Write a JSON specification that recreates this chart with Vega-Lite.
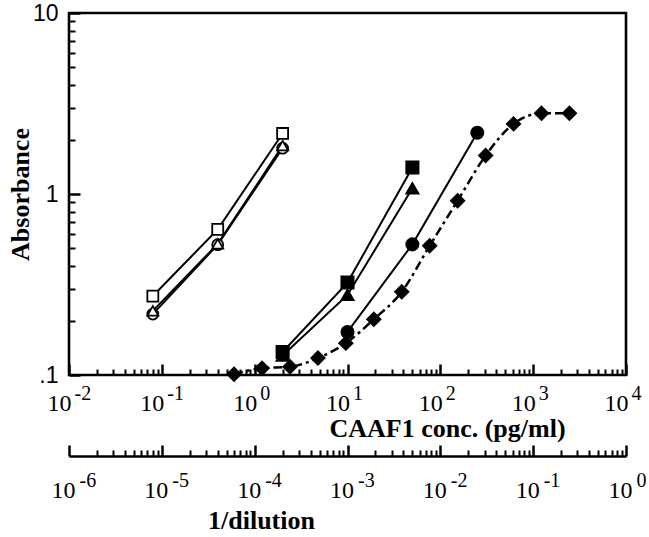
{
  "$schema": "https://vega.github.io/schema/vega-lite/v6.json",
  "width": 557,
  "height": 362,
  "autosize": {"type": "none"},
  "padding": {"left": 69, "top": 13, "right": 23, "bottom": 162},
  "background": "white",
  "config": {
    "view": {"stroke": "black", "strokeWidth": 2.6},
    "axis": {
      "grid": false,
      "labelColor": "black",
      "domainColor": "black",
      "titleColor": "black",
      "labelFont": "Liberation Serif",
      "titleFont": "Liberation Serif",
      "labelFlush": false,
      "labelOverlap": false,
      "labelBound": false
    }
  },
  "data": {
    "values": [
      {"series": "open circle", "conc": 0.08, "abs": 0.217},
      {"series": "open circle", "conc": 0.4, "abs": 0.525},
      {"series": "open circle", "conc": 2, "abs": 1.79},
      {"series": "open triangle", "conc": 0.08, "abs": 0.226},
      {"series": "open triangle", "conc": 0.4, "abs": 0.53},
      {"series": "open triangle", "conc": 2, "abs": 1.85},
      {"series": "open square", "conc": 0.08, "abs": 0.273},
      {"series": "open square", "conc": 0.4, "abs": 0.638},
      {"series": "open square", "conc": 2, "abs": 2.16},
      {"series": "filled triangle", "conc": 2, "abs": 0.128},
      {"series": "filled triangle", "conc": 10, "abs": 0.277},
      {"series": "filled triangle", "conc": 50, "abs": 1.075},
      {"series": "filled square", "conc": 2, "abs": 0.134},
      {"series": "filled square", "conc": 10, "abs": 0.324},
      {"series": "filled square", "conc": 50, "abs": 1.4},
      {"series": "filled circle", "conc": 10, "abs": 0.173},
      {"series": "filled circle", "conc": 50, "abs": 0.527},
      {"series": "filled circle", "conc": 250, "abs": 2.18},
      {"series": "filled diamond", "conc": 0.6, "abs": 0.101},
      {"series": "filled diamond", "conc": 1.2, "abs": 0.109},
      {"series": "filled diamond", "conc": 2.4, "abs": 0.111},
      {"series": "filled diamond", "conc": 4.8, "abs": 0.124},
      {"series": "filled diamond", "conc": 9.6, "abs": 0.15},
      {"series": "filled diamond", "conc": 19.2, "abs": 0.203},
      {"series": "filled diamond", "conc": 38.4, "abs": 0.288},
      {"series": "filled diamond", "conc": 76.8, "abs": 0.518},
      {"series": "filled diamond", "conc": 153.6, "abs": 0.918},
      {"series": "filled diamond", "conc": 307.2, "abs": 1.63},
      {"series": "filled diamond", "conc": 614.4, "abs": 2.44},
      {"series": "filled diamond", "conc": 1228.8, "abs": 2.79},
      {"series": "filled diamond", "conc": 2457.6, "abs": 2.79}
    ]
  },
  "resolve": {
    "scale": {"x": "independent"},
    "axis": {"x": "independent", "y": "independent"}
  },
  "layer": [
    {
      "data": {"values": [{"conc": 0.01, "abs": 0.1}, {"conc": 10000, "abs": 10}]},
      "mark": {"type": "point", "opacity": 0},
      "encoding": {
        "x": {
          "field": "conc", "type": "quantitative",
          "scale": {"type": "log", "domain": [0.01, 10000], "nice": false},
          "axis": {
            "orient": "bottom", "offset": -6, "domain": false, "labels": false, "title": null,
            "tickSize": 6, "tickWidth": 2, "tickColor": "black",
            "values": [0.02,0.03,0.04,0.05,0.06,0.07,0.08,0.09,0.2,0.3,0.4,0.5,0.6,0.7,0.8,0.9,2,3,4,5,6,7,8,9,20,30,40,50,60,70,80,90,200,300,400,500,600,700,800,900,2000,3000,4000,5000,6000,7000,8000,9000]
          }
        },
        "y": {
          "field": "abs", "type": "quantitative",
          "scale": {"type": "log", "domain": [0.1, 10], "nice": false},
          "axis": {
            "orient": "left", "offset": -6, "domain": false, "labels": false, "title": null,
            "tickSize": 6, "tickWidth": 2, "tickColor": "black",
            "values": [0.2,0.3,0.4,0.5,0.6,0.7,0.8,0.9,2,3,4,5,6,7,8,9]
          }
        }
      }
    },
    {
      "data": {"values": [{"conc": 0.01, "abs": 0.1}, {"conc": 10000, "abs": 10}]},
      "mark": {"type": "point", "opacity": 0},
      "encoding": {
        "x": {
          "field": "conc", "type": "quantitative",
          "scale": {"type": "log", "domain": [0.01, 10000], "nice": false},
          "axis": {
            "orient": "bottom", "offset": -11, "domain": false, "title": null,
            "tickSize": 11, "tickWidth": 2.5, "tickColor": "black",
            "values": [0.01, 0.1, 1, 10, 100, 1000, 10000],
            "labels": true,
            "labelExpr": "'' + round(log(datum.value) / LN10)", "labelAlign": "left", "labelOffset": 5,
            "labelBaseline": "alphabetic", "labelPadding": 24, "labelFontSize": 20
          }
        },
        "y": {
          "field": "abs", "type": "quantitative",
          "scale": {"type": "log", "domain": [0.1, 10], "nice": false},
          "axis": {
            "orient": "left", "offset": -11, "domain": false, "labels": false, "title": null,
            "tickSize": 11, "tickWidth": 2.5, "tickColor": "black",
            "values": [0.1, 1, 10]
          }
        }
      }
    },
    {
      "mark": {"type": "point", "opacity": 0},
      "encoding": {
        "x": {
          "field": "conc", "type": "quantitative",
          "scale": {"type": "log", "domain": [0.01, 10000], "nice": false},
          "axis": {
            "orient": "bottom", "domain": false, "ticks": true, "tickSize": 0, "tickColor": "black",
            "values": [0.01, 0.1, 1, 10, 100, 1000, 10000],
            "labelExpr": "'10'", "labelAlign": "right", "labelOffset": 2,
            "labelBaseline": "alphabetic", "labelPadding": 35, "labelFontSize": 24,
            "title": "CAAF1 conc. (pg/ml)", "titleFontSize": 26, "titleFontWeight": "bold",
            "titleX": 378, "titleY": 61, "titleAlign": "center", "titleBaseline": "alphabetic"
          }
        },
        "y": {
          "field": "abs", "type": "quantitative",
          "scale": {"type": "log", "domain": [0.1, 10], "nice": false},
          "axis": {
            "orient": "left", "domain": false, "ticks": true, "tickSize": 0, "tickColor": "black",
            "values": [0.1, 1, 10],
            "labelExpr": "datum.value < 0.5 ? '.1' : datum.value < 5 ? '1' : '10'",
            "labelFont": "Liberation Sans", "labelFontSize": 23, "labelPadding": 11,
            "labelBaseline": "middle",
            "title": "Absorbance", "titleFontSize": 26, "titleFontWeight": "bold",
            "titleX": -49, "titleY": 181, "titleAngle": -90, "titleAlign": "center", "titleBaseline": "middle"
          }
        }
      }
    },
    {
      "transform": [{"filter": "datum.series !== 'filled diamond'"}],
      "mark": {"type": "line", "color": "black", "strokeWidth": 2},
      "encoding": {
        "x": {"field": "conc", "type": "quantitative", "scale": {"type": "log", "domain": [0.01, 10000], "nice": false}, "axis": null},
        "y": {"field": "abs", "type": "quantitative", "scale": {"type": "log", "domain": [0.1, 10], "nice": false}, "axis": null},
        "detail": {"field": "series", "type": "nominal"}
      }
    },
    {
      "transform": [{"filter": "datum.series === 'filled diamond'"}],
      "mark": {"type": "line", "color": "black", "strokeWidth": 2.5, "strokeDash": [9, 4, 3, 4], "interpolate": "monotone"},
      "encoding": {
        "x": {"field": "conc", "type": "quantitative", "scale": {"type": "log", "domain": [0.01, 10000], "nice": false}, "axis": null},
        "y": {"field": "abs", "type": "quantitative", "scale": {"type": "log", "domain": [0.1, 10], "nice": false}, "axis": null}
      }
    },
    {
      "transform": [{"filter": "datum.series === 'open circle'"}],
      "mark": {"type": "point", "shape": "circle", "filled": true, "fill": "white", "stroke": "black", "strokeWidth": 1.8, "size": 120, "opacity": 1},
      "encoding": {
        "x": {"field": "conc", "type": "quantitative", "scale": {"type": "log", "domain": [0.01, 10000], "nice": false}, "axis": null},
        "y": {"field": "abs", "type": "quantitative", "scale": {"type": "log", "domain": [0.1, 10], "nice": false}, "axis": null}
      }
    },
    {
      "transform": [{"filter": "datum.series === 'open triangle'"}],
      "mark": {"type": "point", "shape": "triangle-up", "filled": true, "fill": "white", "stroke": "black", "strokeWidth": 1.8, "size": 120, "opacity": 1},
      "encoding": {
        "x": {"field": "conc", "type": "quantitative", "scale": {"type": "log", "domain": [0.01, 10000], "nice": false}, "axis": null},
        "y": {"field": "abs", "type": "quantitative", "scale": {"type": "log", "domain": [0.1, 10], "nice": false}, "axis": null}
      }
    },
    {
      "transform": [{"filter": "datum.series === 'open square'"}],
      "mark": {"type": "point", "shape": "square", "filled": true, "fill": "white", "stroke": "black", "strokeWidth": 1.8, "size": 120, "opacity": 1},
      "encoding": {
        "x": {"field": "conc", "type": "quantitative", "scale": {"type": "log", "domain": [0.01, 10000], "nice": false}, "axis": null},
        "y": {"field": "abs", "type": "quantitative", "scale": {"type": "log", "domain": [0.1, 10], "nice": false}, "axis": null}
      }
    },
    {
      "transform": [{"filter": "datum.series === 'filled triangle'"}],
      "mark": {"type": "point", "shape": "triangle-up", "filled": true, "fill": "black", "stroke": "black", "strokeWidth": 1.8, "size": 150, "opacity": 1},
      "encoding": {
        "x": {"field": "conc", "type": "quantitative", "scale": {"type": "log", "domain": [0.01, 10000], "nice": false}, "axis": null},
        "y": {"field": "abs", "type": "quantitative", "scale": {"type": "log", "domain": [0.1, 10], "nice": false}, "axis": null}
      }
    },
    {
      "transform": [{"filter": "datum.series === 'filled square'"}],
      "mark": {"type": "point", "shape": "square", "filled": true, "fill": "black", "stroke": "black", "strokeWidth": 1.8, "size": 150, "opacity": 1},
      "encoding": {
        "x": {"field": "conc", "type": "quantitative", "scale": {"type": "log", "domain": [0.01, 10000], "nice": false}, "axis": null},
        "y": {"field": "abs", "type": "quantitative", "scale": {"type": "log", "domain": [0.1, 10], "nice": false}, "axis": null}
      }
    },
    {
      "transform": [{"filter": "datum.series === 'filled circle'"}],
      "mark": {"type": "point", "shape": "circle", "filled": true, "fill": "black", "stroke": "black", "strokeWidth": 1.8, "size": 150, "opacity": 1},
      "encoding": {
        "x": {"field": "conc", "type": "quantitative", "scale": {"type": "log", "domain": [0.01, 10000], "nice": false}, "axis": null},
        "y": {"field": "abs", "type": "quantitative", "scale": {"type": "log", "domain": [0.1, 10], "nice": false}, "axis": null}
      }
    },
    {
      "transform": [{"filter": "datum.series === 'filled diamond'"}],
      "mark": {"type": "point", "shape": "diamond", "filled": true, "fill": "black", "stroke": "black", "strokeWidth": 1.8, "size": 180, "opacity": 1},
      "encoding": {
        "x": {"field": "conc", "type": "quantitative", "scale": {"type": "log", "domain": [0.01, 10000], "nice": false}, "axis": null},
        "y": {"field": "abs", "type": "quantitative", "scale": {"type": "log", "domain": [0.1, 10], "nice": false}, "axis": null}
      }
    },
    {
      "data": {"values": [{"dil": 0.000001}, {"dil": 1}]},
      "mark": {"type": "point", "opacity": 0},
      "encoding": {
        "x": {
          "field": "dil", "type": "quantitative",
          "scale": {"type": "log", "domain": [0.000001, 1], "nice": false},
          "axis": {
            "orient": "bottom", "offset": 75, "domain": false, "labels": false, "title": null,
            "tickSize": 6, "tickWidth": 2, "tickColor": "black",
            "values": [0.000002,0.000003,0.000004,0.000005,0.000006,0.000007,0.000008,0.000009,0.00002,0.00003,0.00004,0.00005,0.00006,0.00007,0.00008,0.00009,0.0002,0.0003,0.0004,0.0005,0.0006,0.0007,0.0008,0.0009,0.002,0.003,0.004,0.005,0.006,0.007,0.008,0.009,0.02,0.03,0.04,0.05,0.06,0.07,0.08,0.09,0.2,0.3,0.4,0.5,0.6,0.7,0.8,0.9]
          }
        }
      }
    },
    {
      "data": {"values": [{"dil": 0.000001}, {"dil": 1}]},
      "mark": {"type": "point", "opacity": 0},
      "encoding": {
        "x": {
          "field": "dil", "type": "quantitative",
          "scale": {"type": "log", "domain": [0.000001, 1], "nice": false},
          "axis": {
            "orient": "bottom", "offset": 70, "domain": false, "title": null,
            "tickSize": 11, "tickWidth": 2.5, "tickColor": "black",
            "values": [0.000001, 0.00001, 0.0001, 0.001, 0.01, 0.1, 1],
            "labels": true,
            "labelExpr": "'' + round(log(datum.value) / LN10)", "labelAlign": "left", "labelOffset": 10,
            "labelBaseline": "alphabetic", "labelPadding": 30, "labelFontSize": 20
          }
        }
      }
    },
    {
      "data": {"values": [{"dil": 0.000001}, {"dil": 1}]},
      "mark": {"type": "point", "opacity": 0},
      "encoding": {
        "x": {
          "field": "dil", "type": "quantitative",
          "scale": {"type": "log", "domain": [0.000001, 1], "nice": false},
          "axis": {
            "orient": "bottom", "offset": 81, "domain": true, "domainWidth": 2.4, "ticks": true, "tickSize": 0, "tickColor": "black",
            "values": [0.000001, 0.00001, 0.0001, 0.001, 0.01, 0.1, 1],
            "labelExpr": "'10'", "labelAlign": "right", "labelOffset": 6,
            "labelBaseline": "alphabetic", "labelPadding": 41, "labelFontSize": 24,
            "title": "1/dilution", "titleFontSize": 26, "titleFontWeight": "bold",
            "titleX": 192, "titleY": 72, "titleAlign": "center", "titleBaseline": "alphabetic"
          }
        }
      }
    }
  ]
}
